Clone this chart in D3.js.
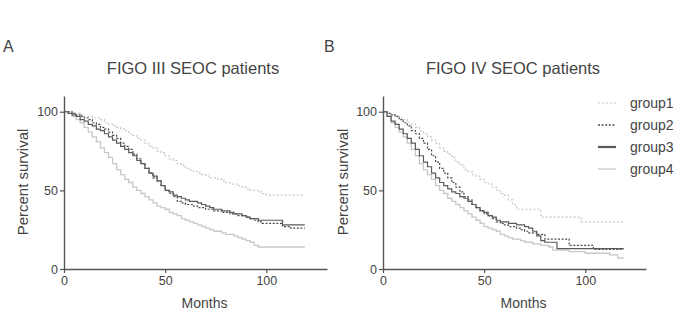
<!DOCTYPE html>
<html><head><meta charset="utf-8">
<script src="https://cdn.jsdelivr.net/npm/d3@7/dist/d3.min.js"></script>
<style>body{margin:0;background:#fff}svg{display:block}text{font-family:Arial,"Liberation Sans",sans-serif;fill:#444}</style>
</head><body><svg id="c" width="675" height="315"></svg>
<script>
// ---- data ----
const panelLetters = ["A", "B"];
const panelTitles = ["FIGO III SEOC patients", "FIGO IV SEOC patients"];
const groups = ["group1", "group2", "group3", "group4"];
const xTicks = [0, 50, 100];
const yTicks = [0, 50, 100];

// months at which survival was read (same grid for every curve)
const months = [0,2,4,6,8,10,12,14,16,18,20,22,24,26,28,30,32,34,36,38,40,42,44,46,48,50,
  52,54,56,58,60,62,64,66,68,70,72,74,76,78,80,82,84,86,88,90,92,94,96,98,100,104,108,112,116,119];

// Panel A (FIGO III), percent survival
const A_group1 = [100,100,99,99,98,97,97,96,96,95,93,92,91,90,89,88,86,85,83,82,80,78,77,75,74,72,
  70,69,67,66,64,63,62,61,60,59,58,58,57,56,55,54,54,53,52,51,50,50,49,48,47,47,47,47,47,47];
const A_group2 = [100,100,99,98,97,96,95,93,92,90,89,87,85,83,80,78,76,73,70,67,64,61,58,56,53,50,
  48,46,43,42,41,41,40,39,39,38,38,37,37,36,36,35,35,34,34,33,32,31,30,29,29,29,27,26,26,26];
const A_group3 = [100,99,98,97,95,94,92,91,89,88,86,84,82,80,78,76,74,72,69,67,64,61,59,56,53,50,
  49,47,46,45,44,43,43,42,41,40,39,38,38,37,37,36,35,35,34,33,32,32,31,31,31,31,28,28,28,28];
const A_group4 = [100,99,97,95,93,90,87,84,81,77,74,71,67,63,60,57,55,52,50,48,46,44,42,40,39,38,
  36,35,34,32,31,30,29,28,27,26,25,24,24,23,22,22,21,20,19,18,17,15,14,14,14,14,14,14,14,14];

// Panel B (FIGO IV), percent survival
const B_group1 = [100,99,98,97,96,95,93,92,90,88,86,84,82,80,77,75,73,71,68,66,63,62,60,59,57,55,
  54,52,50,48,47,44,41,38,38,38,38,38,38,33,33,33,33,33,33,33,33,33,33,30,30,30,30,30,30,30];
const B_group2 = [100,99,98,97,95,93,91,88,86,83,80,76,72,68,64,61,58,55,52,49,46,44,41,39,37,35,
  34,32,30,29,28,27,27,26,25,24,23,23,22,22,19,19,19,19,19,19,15,15,15,15,15,12.5,12.5,12.5,12.5,12.5];
const B_group3 = [100,97,94,92,89,86,83,80,76,72,68,65,61,58,55,53,51,49,48,46,45,43,41,39,37,36,
  34,33,31,30,30,29,29,28,28,27,26,24,21,18,17,17,17,13,13,13,13,13,13,13,13,13,13,13,13,13];
const B_group4 = [100,97,93,90,87,84,80,76,72,67,63,60,57,53,50,48,45,43,41,39,37,35,33,31,29,27,
  26,25,24,22,21,20,19,19,18,17,17,16,16,15,15,14,12,12,12,12,11,11,11,11,10,10,10,9,7,7];

const panels = [
  [A_group1, A_group2, A_group3, A_group4],
  [B_group1, B_group2, B_group3, B_group4]
];

// ---- styles ----
const styles = [
  {stroke: "#c4c4c4", dash: "2,2", w: 1.2, lw: 1.2},
  {stroke: "#4a4a4a", dash: "2,1.6", w: 1.2, lw: 1.4},
  {stroke: "#5a5a5a", dash: null, w: 1.2, lw: 2.2},
  {stroke: "#c8c8c8", dash: null, w: 1.3, lw: 1.3}
];
const drawOrder = [3, 0, 1, 2];
const layout = [
  {left: 64, letterX: 3, titleX: 193, ylabX: 28},
  {left: 383, letterX: 324, titleX: 513, ylabX: 348}
];

const svg = d3.select("#c");
const y = d3.scaleLinear().domain([0, 110]).range([269, 96]);

panels.forEach((series, i) => {
  const L = layout[i];
  const x = d3.scaleLinear().domain([0, 130]).range([L.left, L.left + 263]);
  const g = svg.append("g");
  g.append("text").attr("x", L.letterX).attr("y", 52).attr("font-size", 16).text(panelLetters[i]);
  g.append("text").attr("x", L.titleX).attr("y", 74).attr("text-anchor", "middle").attr("font-size", 16.5).text(panelTitles[i]);

  const line = d3.line().x(d => x(d[0])).y(d => y(d[1])).curve(d3.curveStepAfter);
  drawOrder.forEach(k => {
    const pts = months.map((m, j) => [m, series[k][j]]);
    const st = styles[k];
    g.append("path").attr("d", line(pts)).attr("fill", "none")
      .attr("stroke", st.stroke).attr("stroke-width", st.w)
      .attr("stroke-dasharray", st.dash);
  });

  const xa = g.append("g").attr("transform", "translate(0,269)")
    .call(d3.axisBottom(x).tickValues(xTicks).tickSize(4).tickPadding(3).tickSizeOuter(0));
  const ya = g.append("g").attr("transform", `translate(${L.left},0)`)
    .call(d3.axisLeft(y).tickValues(yTicks).tickSize(4).tickPadding(2).tickSizeOuter(0));
  [xa, ya].forEach(a => {
    a.select(".domain").attr("stroke", "#555").attr("stroke-width", 1.4);
    a.selectAll(".tick line").attr("stroke", "#555").attr("stroke-width", 1.2);
    a.selectAll("text").attr("font-size", 12.5).attr("fill", "#444").attr("font-family", "Arial, 'Liberation Sans', sans-serif");
  });
  g.append("text").attr("x", (L.left + L.left + 263) / 2 + 9).attr("y", 308)
    .attr("text-anchor", "middle").attr("font-size", 14).text("Months");
  g.append("text").attr("transform", `translate(${L.ylabX},182) rotate(-90)`)
    .attr("text-anchor", "middle").attr("font-size", 15).text("Percent survival");
});

// legend
const lg = svg.append("g");
groups.forEach((name, k) => {
  const cy = 103 + k * 22;
  const st = styles[k];
  lg.append("line").attr("x1", 598).attr("x2", 616).attr("y1", cy).attr("y2", cy)
    .attr("stroke", st.stroke).attr("stroke-width", st.lw).attr("stroke-dasharray", st.dash);
  lg.append("text").attr("x", 630).attr("y", cy + 5).attr("font-size", 14).text(name);
});
</script></body></html>
